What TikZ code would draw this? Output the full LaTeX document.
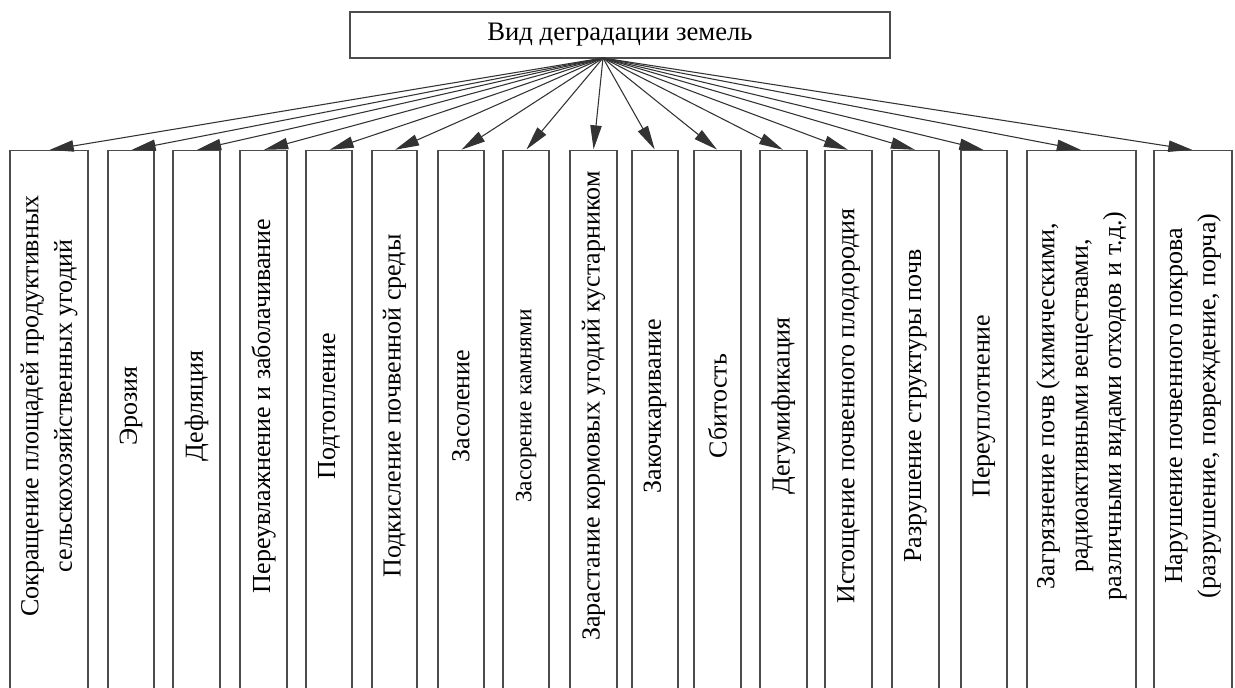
\documentclass[tikz,border=0pt]{standalone}
\usepackage{fontspec}
\setmainfont{Liberation Serif}
\usetikzlibrary{arrows.meta}
\newcommand\mybox[5][]{%
  \pgfmathsetmacro\bw{(#4-#3)*0.75}%
  \pgfmathsetmacro\bc{(#3+#4)/2}%
  \node[catbox, minimum width=\bw pt] (#2) at (\bc,150) {};%
  \node[lbl,#1] (#2t) at (\bc,406) {#5};%
}
\begin{document}
\begin{tikzpicture}[x=0.75pt,y=-0.75pt,
  frame/.style={draw=black!70, line width=0.9pt, fill=white},
  catbox/.style={frame, anchor=north, minimum height=420pt, inner sep=0pt},
  topbox/.style={frame, minimum width=405pt, minimum height=34.5pt, inner sep=0pt, font=\fontsize{20}{24}\selectfont},
  lbl/.style={rotate=90, align=center, inner sep=0pt, font=\fontsize{19.5}{25}\selectfont},
  small/.style={font=\fontsize{17.5}{21}\selectfont},
  arr/.style={draw=black!80, line width=0.8pt, -{Triangle[length=18pt,width=8.5pt]}, shorten >=0.5pt}]
\clip (0,0) rectangle (1235,687);
\fill[white] (0,0) rectangle (1235,687);
\node[topbox] (top) at (620,35) {Вид деградации земель};
\coordinate (o) at (603,58);
\mybox{b1}{10}{88}{Сокращение площадей продуктивных\\сельскохозяйственных угодий}
\mybox{b2}{108}{154}{Эрозия}
\mybox{b3}{173}{220}{Дефляция}
\mybox{b4}{240}{287}{Переувлажнение и заболачивание}
\mybox{b5}{306}{352}{Подтопление}
\mybox{b6}{372}{417}{Подкисление почвенной среды}
\mybox{b7}{438}{484}{Засоление}
\mybox[small]{b8}{503}{549}{Засорение камнями}
\mybox{b9}{570}{617}{Зарастание кормовых угодий кустарником}
\mybox{b10}{632}{678}{Закочкаривание}
\mybox{b11}{694}{741}{Сбитость}
\mybox{b12}{760}{807}{Дегумификация}
\mybox{b13}{825}{872}{Истощение почвенного плодородия}
\mybox{b14}{892}{939}{Разрушение структуры почв}
\mybox{b15}{961}{1007}{Переуплотнение}
\mybox{b16}{1027}{1136}{Загрязнение почв (химическими,\\радиоактивными веществами,\\различными видами отходов и т.д.)}
\mybox{b17}{1154}{1232}{Нарушение почвенного покрова\\(разрушение, повреждение, порча)}
\foreach \n in {b1,b2,b3,b4,b5,b6,b7,b8,b9,b10,b11,b12,b13,b14,b15,b16,b17}
  \draw[arr] (o) -- (\n.north);
\end{tikzpicture}
\end{document}
